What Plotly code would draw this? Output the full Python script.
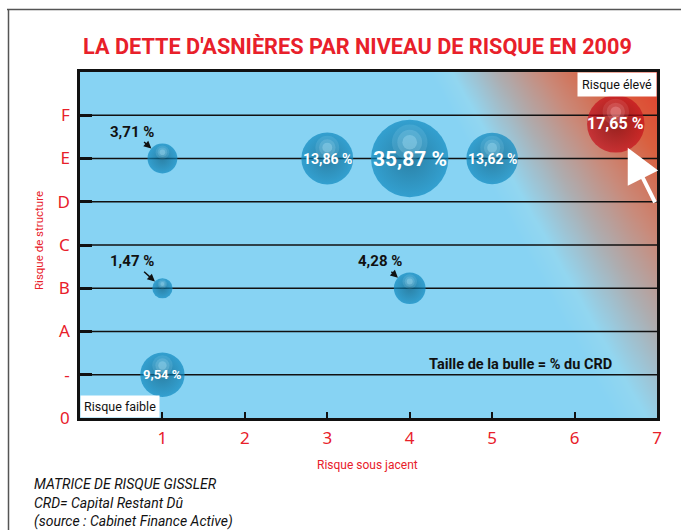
import numpy as np
import plotly.graph_objects as go

# ---------------- data ----------------
risk_underlying = [1, 3, 4, 5, 6.5, 1, 4, 1]          # x: Risque sous jacent
risk_structure = [6, 6, 6, 6, 6.8, 3, 3, 1]           # y: Risque de structure (index in y_tick_text)
share_crd = [3.71, 13.86, 35.87, 13.62, 17.65, 1.47, 4.28, 9.54]  # % du CRD
x_tick_vals = [1, 2, 3, 4, 5, 6, 7]
y_tick_text = ["0", "-", "A", "B", "C", "D", "E", "F"]

title = "LA DETTE D'ASNIÈRES PAR NIVEAU DE RISQUE EN 2009"
footnotes = ["MATRICE DE RISQUE GISSLER", "CRD= Capital Restant Dû",
             "(source : Cabinet Finance Active)"]

# ---------------- geometry / style ----------------
W, H = 681, 530
L, R, T, B = 80, 657, 72, 418
XMAX, YMAX = 7, 8
sx = (R - L) / XMAX
sy = (B - T) / YMAX
RED = "#e8202a"
NARROW = "Roboto, Arial, sans-serif"
SANS = "Noto Sans, Open Sans, sans-serif"


def pxx(p):
    return (p - L) / (R - L)


def pyy(p):
    return (B - p) / (B - T)


fig = go.Figure()

# background gradient: diagonal bands, red towards the top-right corner
gx = np.linspace(0, XMAX, 71)
gy = np.linspace(0, YMAX, 81)
GX, GY = np.meshgrid(gx, gy)
PX = L + GX * sx
PY = B - GY * sy
X0, K0, X1, K1 = 430.0, 0.5335, 540.0, 0.676
Z = (PX - X0 - K0 * (PY - T)) / ((X1 - X0) + (K1 - K0) * (PY - T))
fig.add_trace(go.Heatmap(
    x=gx, y=gy, z=Z, zmin=-0.5, zmax=2.2, zsmooth="best", showscale=False,
    hoverinfo="skip",
    colorscale=[[0, "#87d3f3"], [0.185, "#87d3f3"], [0.259, "#92d6f0"],
                [0.315, "#9cc6d8"], [0.407, "#adadb0"], [0.556, "#c98a7a"],
                [0.741, "#d9603f"], [0.963, "#e23a2a"], [1, "#e23a2a"]]))

# horizontal grid lines
for k in range(1, len(y_tick_text)):
    fig.add_trace(go.Scatter(x=[0, XMAX], y=[k, k], mode="lines",
                             line=dict(color="#111111", width=1.3),
                             hoverinfo="skip", showlegend=False))

# bubble sizes (diameter in px) from values
diam = [2 * 8.6 * v ** 0.42 for v in share_crd]
is_red = [x > 6 for x in risk_underlying]

base_col = ["#c4101c" if r else "#0f8ac1" for r in is_red]
edge_col = ["#7c0008" if r else "#045e85" for r in is_red]
fig.add_trace(go.Scatter(
    x=risk_underlying, y=risk_structure, mode="markers", hoverinfo="skip",
    showlegend=False,
    marker=dict(size=diam, sizemode="diameter", color=base_col,
                line=dict(width=0),
                gradient=dict(type="radial", color=edge_col))))

# soft highlight on each sphere (stacked translucent discs)
hl_col = ["#ffb0b0" if r else "#b0e8fc" for r in is_red]
for frac, op in [(0.46, 0.14), (0.32, 0.2), (0.19, 0.32)]:
    hl_y = [y + 0.42 * d / 2 / sy for y, d in zip(risk_structure, diam)]
    fig.add_trace(go.Scatter(
        x=risk_underlying, y=hl_y, mode="markers", hoverinfo="skip",
        showlegend=False,
        marker=dict(size=[d * frac for d in diam], sizemode="diameter",
                    color=hl_col, opacity=op, line=dict(width=0))))

annotations = []
for x, y, v, d in zip(risk_underlying, risk_structure, share_crd, diam):
    label = f"{v:.2f}".replace(".", ",") + " %"
    if v < 5:
        annotations.append(dict(
            x=x, y=y, xref="x", yref="y", text=f"<b>{label}</b>",
            showarrow=True, ax=-30, ay=-27, arrowhead=2, arrowsize=1,
            arrowwidth=1.5, arrowcolor="#111111", standoff=d / 2,
            font=dict(family=NARROW, size=15, color="#111111")))
    else:
        annotations.append(dict(
            x=x, y=y, xref="x", yref="y", text=f"<b>{label}</b>",
            showarrow=False, xanchor="center", yanchor="middle",
            font=dict(family=NARROW, size=max(13, round(d * 0.27)),
                      color="white")))

# white pointer arrow to the high-risk bubble
for x, y, v, d, r in zip(risk_underlying, risk_structure, share_crd, diam, is_red):
    if r:
        annotations.append(dict(
            x=x, y=y, xref="x", yref="y", text="", showarrow=True,
            ax=40, ay=80, arrowhead=2, arrowsize=1.7, arrowwidth=4,
            arrowcolor="white", standoff=d / 2 - 2))


def note(px, py, text, size, color="#111111", **kw):
    d = dict(x=pxx(px), y=pyy(py), xref="paper", yref="paper", text=text,
             showarrow=False, xanchor="center", yanchor="middle",
             font=dict(family=NARROW, size=size, color=color))
    d.update(kw)
    return d


annotations += [
    dict(x=1, y=1, xref="paper", yref="paper", xanchor="right", yanchor="top",
         text="Risque élevé", showarrow=False, bgcolor="white",
         borderpad=4, font=dict(family=NARROW, size=12.5, color="#111111")),
    dict(x=0, y=0, xref="paper", yref="paper", xanchor="left", yanchor="bottom",
         text="Risque faible", showarrow=False, bgcolor="white",
         borderpad=3, font=dict(family=NARROW, size=12.5, color="#111111")),
    note(520, 364, "<b>Taille de la bulle = % du CRD</b>", 14.5),
    note(357, 47, f"<b>{title}</b>", 21.7, RED),
    note(367, 465, "Risque sous jacent", 12, RED),
    note(39, 241, "Risque de structure", 11.5, RED, textangle=-90),
]
for i, line in enumerate(footnotes):
    annotations.append(note(32, 484 + 18.5 * i, f"<i>{line}</i>", 14,
                            xanchor="left"))

# outer frame
shapes = [
    dict(type="line", xref="paper", yref="paper", x0=pxx(7), x1=pxx(W + 5),
         y0=pyy(9.5), y1=pyy(9.5), line=dict(color="#555555", width=1.5)),
    dict(type="line", xref="paper", yref="paper", x0=pxx(8.5), x1=pxx(8.5),
         y0=pyy(9.5), y1=pyy(H + 5), line=dict(color="#555555", width=1.5)),
]

fig.update_layout(
    width=W, height=H, margin=dict(l=L, r=W - R, t=T, b=H - B),
    paper_bgcolor="white", plot_bgcolor="#87d3f3", showlegend=False,
    annotations=annotations, shapes=shapes,
    xaxis=dict(range=[0, XMAX], tickvals=x_tick_vals, showgrid=False,
               zeroline=False, ticks="inside", ticklen=6, tickwidth=2,
               tickcolor="#111111", showline=True, linecolor="#111111",
               linewidth=2.5, mirror=True, ticklabelstandoff=3,
               tickfont=dict(family=SANS, size=17, color=RED)),
    yaxis=dict(range=[0, YMAX], tickvals=list(range(len(y_tick_text))),
               ticktext=y_tick_text, showgrid=False, zeroline=False,
               ticks="inside", ticklen=12, tickwidth=2.5, tickcolor="#111111",
               showline=True, linecolor="#111111", linewidth=2.5, mirror=True,
               ticklabelstandoff=4,
               tickfont=dict(family=SANS, size=17, color=RED)),
)

fig.write_html("out.html", config={"displayModeBar": False},
               post_script="document.body.style.margin='0';"
                           "document.body.style.overflow='hidden';")
